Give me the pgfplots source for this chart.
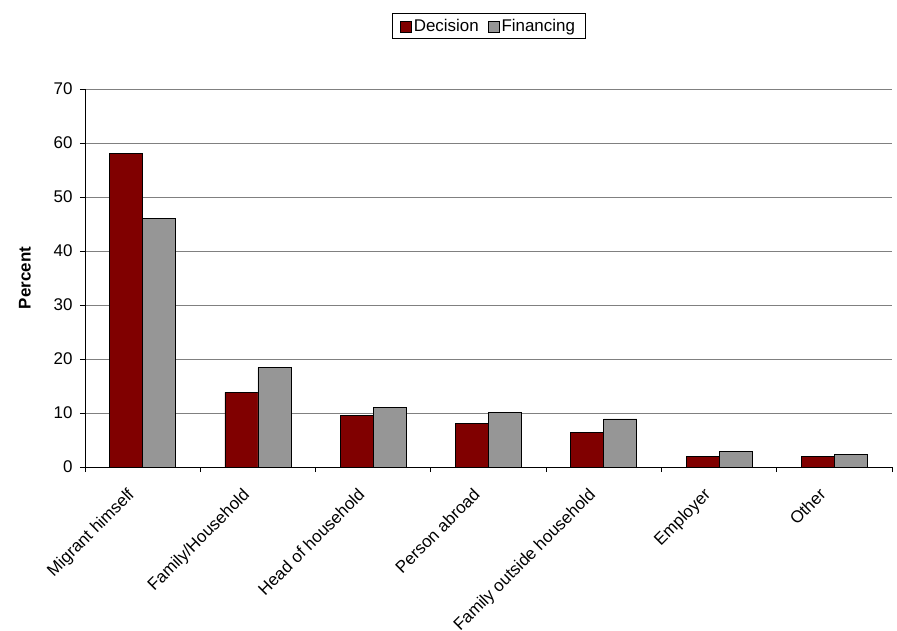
\documentclass[border=0pt]{standalone}
\usepackage{pgfplots}
\pgfplotsset{compat=1.18}
\usepackage{fontspec}
\setmainfont{Liberation Sans}

\definecolor{decision}{HTML}{800000}
\definecolor{financing}{HTML}{969696}
\definecolor{gridgray}{HTML}{808080}

\begin{document}
\begin{tikzpicture}
% fixed page frame around the plot area
\path[use as bounding box] (-85bp,-164bp) rectangle (812bp,467bp);
\begin{axis}[
  at={(0,0)}, anchor=south west,
  scale only axis, width=807bp, height=378bp,
  font=\fontsize{17}{20}\selectfont,
  /pgf/number format/assume math mode=true,
  ybar=0pt, bar width=33bp,
  xmin=-0.5, xmax=6.5, ymin=0, ymax=70,
  ytick={0,10,...,70},
  xtick={0,...,6},
  xticklabels={Migrant himself, Family/Household, Head of household,
    Person abroad, Family outside household, Employer, Other},
  minor xtick={-0.5,0.5,...,6.5},
  major x tick style={draw=none},
  minor x tick style={black, line width=0.8bp},
  major y tick style={black, line width=0.8bp},
  minor tick length=5bp, major tick length=5bp,
  tick align=outside,
  xtick pos=bottom, ytick pos=left,
  axis x line*=bottom, axis y line*=left,
  axis line style={black, line width=0.9bp},
  ymajorgrids,
  major grid style={gridgray, line width=0.9bp},
  yticklabel style={xshift=-4bp},
  xticklabel style={rotate=45, anchor=north east, inner sep=1bp, yshift=2bp, xshift=-21bp},
  every axis y label/.style={at={(axis description cs:-0.0744,0.5)}, rotate=90, anchor=center},
  ylabel={\textbf{Percent}},
  legend columns=2,
  legend style={at={(0.5,1)}, anchor=south, yshift=50bp, draw=black, line width=0.8bp,
    font=\fontsize{17}{20}\selectfont, inner xsep=8bp, inner ysep=3.5bp,
    /tikz/every even column/.append style={column sep=7bp}},
  legend image code/.code={\draw[#1, line width=0.8bp] (0bp,-6bp) rectangle (11bp,5bp);},
]
\addplot[fill=decision, draw=black, line width=0.8bp] coordinates
  {(0,58.0) (1,13.8) (2,9.6) (3,8.0) (4,6.4) (5,2.0) (6,2.0)};
\addplot[fill=financing, draw=black, line width=0.8bp] coordinates
  {(0,46.1) (1,18.4) (2,11.05) (3,10.1) (4,8.9) (5,2.85) (6,2.4)};
\legend{Decision, Financing}
\draw[gridgray, line width=0.9bp] (rel axis cs:1,0) -- (rel axis cs:1,1);
\end{axis}
\end{tikzpicture}
\end{document}
